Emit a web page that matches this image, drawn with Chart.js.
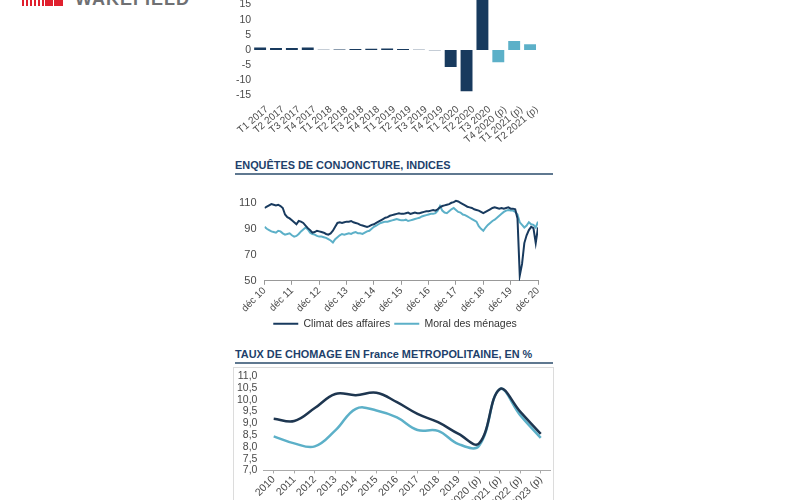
<!DOCTYPE html>
<html>
<head>
<meta charset="utf-8">
<script src="https://cdn.jsdelivr.net/npm/chart.js@4"></script>
<style>
  body { margin: 0; width: 800px; height: 500px; background: #fff; overflow: hidden; position: relative; font-family: "Liberation Sans", Arial, sans-serif; }
  .abs { position: absolute; }
  .stripes { left: 22px; top: 0; width: 23px; height: 6px; background: repeating-linear-gradient(90deg, #e0202e 0 2px, #fff 2px 4px); }
  .sq { top: 0; height: 6px; background: #e0202e; }
  .logo { left: 75px; top: -10px; font-size: 18px; line-height: 18px; font-weight: bold; color: #6f7073; letter-spacing: 1px; }
  .title { left: 235px; width: 318px; font-size: 10.9px; font-weight: bold; color: #213f6b; border-bottom: 2px solid #5f7890; padding-bottom: 2px; white-space: nowrap; }
  .box { left: 233px; top: 367px; width: 319px; height: 160px; border: 1px solid #dcdcdc; }
</style>
</head>
<body>
<div class="abs stripes"></div>
<div class="abs sq" style="left:45px;width:8px"></div>
<div class="abs sq" style="left:54px;width:9px"></div>
<div class="abs logo">WAKEFIELD</div>

<canvas id="pib" class="abs" style="left:222px;top:-18px"></canvas>

<div class="abs title" style="top:159px">ENQUÊTES DE CONJONCTURE, INDICES</div>
<canvas id="enq" class="abs" style="left:222px;top:183px"></canvas>

<div class="abs title" style="top:348px">TAUX DE CHOMAGE EN France METROPOLITAINE, EN %</div>
<div class="abs box"></div>
<canvas id="cho" class="abs" style="left:226px;top:364px"></canvas>

<script>
// PIB trimestriel, variation en %
const trimestres = ['T1 2017','T2 2017','T3 2017','T4 2017','T1 2018','T2 2018','T3 2018','T4 2018',
  'T1 2019','T2 2019','T3 2019','T4 2019','T1 2020','T2 2020','T3 2020','T4 2020 (p)','T1 2021 (p)','T2 2021 (p)'];
const pib = [0.8, 0.7, 0.7, 0.8, 0.1, 0.2, 0.3, 0.4, 0.5, 0.3, 0.1, -0.1, -5.6, -13.6, 18.2, -4.0, 3.0, 1.9];

// Enquêtes de conjoncture, mensuel de déc 10 à déc 20
const moisTicks = ['déc 10','déc 11','déc 12','déc 13','déc 14','déc 15','déc 16','déc 17','déc 18','déc 19','déc 20'];
const climatAffaires = [
  106, 107, 108, 109, 108.5, 108, 108.5, 107.5, 106, 101, 99, 98,
  96.5, 95, 93.5, 96, 95.5, 94.5, 92.5, 90.5, 89, 87, 87.5, 88.5,
  88, 87.5, 87, 86, 85.5, 86.5, 88.5, 91.5, 94.5, 95, 94.5, 95,
  95.5, 95.5, 96, 95, 94.5, 94, 93, 92.5, 92, 91.5, 92, 93,
  93.5, 94.5, 95.5, 96.5, 97.5, 98.5, 99, 100, 100.5, 101, 101.5, 102,
  101.5, 101.5, 102, 102.5, 101.5, 102, 102.5, 102, 102, 102.5, 103, 103.5,
  103.5, 104, 104.5, 104, 105, 106.5, 107.5, 108, 108.5, 109, 110, 110.5,
  111.5, 111, 110, 109, 108, 107, 106.5, 106, 105, 104.5, 104, 103,
  102, 103, 104, 105, 106, 106.5, 106, 105.5, 106, 105.5, 106, 106.5,
  105.5, 105.5, 105, 98, 54, 63, 79, 85, 89, 91.5, 90.5, 79,
  91
];
const moralMenages = [
  91.5, 90, 89, 88, 87.5, 87, 88.5, 88, 86.5, 85.5, 86, 86.5,
  85, 84, 84.5, 86, 88, 89.5, 91, 89.5, 87, 86, 85.5, 84.5,
  84, 84, 83.5, 83, 82, 81, 79.5, 82, 83.5, 85, 86, 85.5,
  86, 86.5, 86, 87, 87.5, 86.5, 86.5, 86, 87, 88, 88.5, 90,
  91.5, 92.5, 93.5, 94.5, 95, 95.5, 95.5, 96, 96.5, 97, 97.5, 97,
  96.5, 96.5, 97, 96, 96.5, 97, 97.5, 98, 98.5, 99.5, 100, 100.5,
  101, 101.5, 101.5, 102, 104, 107.5, 104, 102.5, 102, 103.5, 105, 106,
  104.5, 103, 102.5, 101, 100.5, 99.5, 98.5, 97.5, 96.5, 95.5, 92, 90,
  88.5, 91, 93, 94.5, 96, 97, 98.5, 100, 101.5, 103, 104, 104.5,
  104, 104, 103, 101, 95, 93, 91, 92.5, 95, 93.5, 93, 91,
  95.5
];
const enqTicks = [50, 70, 90, 110];

// Taux de chômage, %
const annees = ['2010','2011','2012','2013','2014','2015','2016','2017','2018','2019','2020 (p)','2021 (p)','2022 (p)','2023 (p)'];
const chomageA = [9.2, 9.1, 9.65, 10.25, 10.2, 10.3, 9.9, 9.4, 9.05, 8.55, 8.15, 10.45, 9.5, 8.55];
const chomageB = [8.45, 8.15, 8.02, 8.7, 9.62, 9.55, 9.25, 8.72, 8.68, 8.12, 8.05, 10.45, 9.35, 8.38];

const navy = '#183a5e';
const teal = '#5cb0c8';
const tickColor = '#4a4a4a';
const fontFamily = '"Liberation Sans", Arial, sans-serif';

Chart.defaults.font.family = fontFamily;
Chart.defaults.color = tickColor;
Chart.defaults.animation = false;

function size(id, w, h) {
  const c = document.getElementById(id);
  c.width = w; c.height = h;
  c.style.width = w + 'px'; c.style.height = h + 'px';
  return c;
}

// rotated labels overhang to the left: keep the plot where the y labels put it
const padX = (left, right) => s => { s.paddingLeft = left; s.paddingRight = right; };

new Chart(size('pib', 316, 164), {
  type: 'bar',
  data: {
    labels: trimestres,
    datasets: [{
      data: pib,
      backgroundColor: trimestres.map(t => t.includes('(p)') ? teal : navy),
      categoryPercentage: 1,
      barPercentage: 0.75
    }]
  },
  options: {
    responsive: false,
    plugins: { legend: { display: false }, tooltip: { enabled: false } },
    layout: { padding: { left: 13, right: 0 } },
    scales: {
      x: {
        grid: { display: false },
        border: { display: false },
        afterFit: padX(0, 0),
        ticks: { font: { size: 10 }, maxRotation: 40, minRotation: 40, autoSkip: false, padding: 0, labelOffset: 7 }
      },
      y: {
        min: -15, max: 20,
        grid: { display: false, drawTicks: false },
        border: { display: false },
        ticks: { stepSize: 5, autoSkip: false, font: { size: 10.5 }, padding: 1 }
      }
    }
  }
});

new Chart(size('enq', 337, 156), {
  type: 'line',
  data: {
    datasets: [
      { label: 'Climat des affaires', data: climatAffaires.map((v, i) => ({ x: i, y: v })), borderColor: navy, backgroundColor: navy, borderWidth: 2, pointRadius: 0 },
      { label: 'Moral des ménages', data: moralMenages.map((v, i) => ({ x: i, y: v })), borderColor: teal, backgroundColor: teal, borderWidth: 2, pointRadius: 0 }
    ]
  },
  options: {
    responsive: false,
    plugins: {
      tooltip: { enabled: false },
      legend: {
        position: 'bottom',
        labels: { usePointStyle: true, pointStyle: 'line', pointStyleWidth: 25, boxHeight: 2, padding: 4, color: '#333', font: { size: 10.5 } }
      }
    },
    layout: { padding: { left: 9, right: 0 } },
    scales: {
      x: {
        type: 'linear', min: 0, max: 120,
        grid: { display: true, drawOnChartArea: false, tickLength: 4, color: '#999' },
        border: { color: '#999' },
        afterFit: padX(0, 21),
        afterBuildTicks: s => { s.ticks = moisTicks.map((_, i) => ({ value: i * 12 })); },
        ticks: { callback: v => moisTicks[v / 12], autoSkip: false, maxRotation: 45, minRotation: 45, font: { size: 10 }, padding: 0 }
      },
      y: {
        min: 50, max: 114,
        grid: { display: false, drawTicks: false },
        border: { display: false },
        afterBuildTicks: s => { s.ticks = enqTicks.map(v => ({ value: v })); },
        ticks: { autoSkip: false, font: { size: 11 }, padding: 8 }
      }
    }
  }
});

new Chart(size('cho', 325, 150), {
  type: 'line',
  data: {
    labels: annees,
    datasets: [
      { data: chomageA, borderColor: '#1e3650', borderWidth: 2.5, pointRadius: 0, tension: 0.4 },
      { data: chomageB, borderColor: teal, borderWidth: 2.5, pointRadius: 0, tension: 0.4 }
    ]
  },
  options: {
    responsive: false,
    plugins: { legend: { display: false }, tooltip: { enabled: false } },
    layout: { padding: { left: 5, right: 0, bottom: 4 } },
    scales: {
      x: {
        offset: true,
        grid: { display: true, drawOnChartArea: false, offset: false, tickLength: 3, color: '#aaa' },
        border: { color: '#aaa' },
        afterFit: padX(0, 0),
        ticks: { maxRotation: 45, minRotation: 45, autoSkip: false, font: { size: 10.5 }, padding: 0 }
      },
      y: {
        min: 7, max: 11,
        grid: { display: false, drawTicks: false },
        border: { display: false },
        ticks: { stepSize: 0.5, autoSkip: false, font: { size: 10.5 }, padding: 6, callback: v => v.toFixed(1).replace('.', ',') }
      }
    }
  }
});
</script>
</body>
</html>
